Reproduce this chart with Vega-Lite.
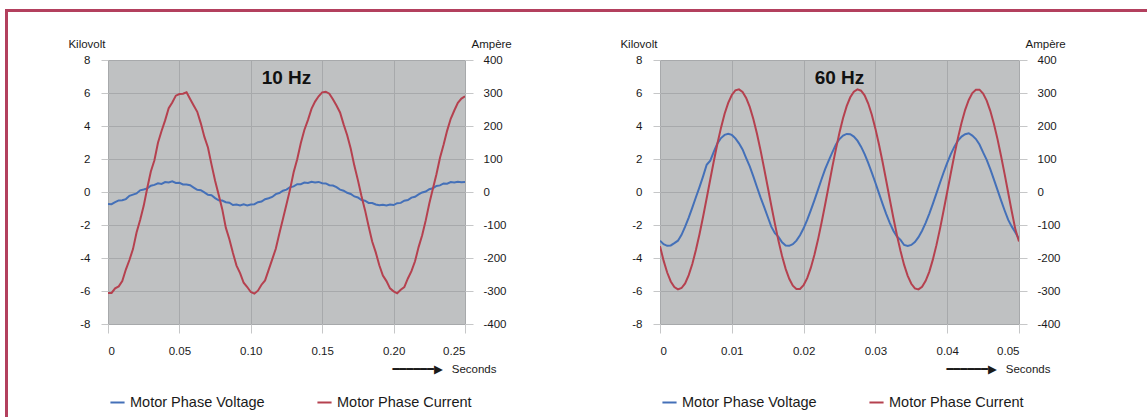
{
  "$schema": "https://vega.github.io/schema/vega-lite/v6.json",
  "padding": {"left": 5, "top": 9, "right": 0, "bottom": 0},
  "background": "white",
  "config": {
    "view": {"stroke": null},
    "font": "Liberation Sans",
    "axis": {
      "labelFont": "Liberation Sans", "labelFontSize": 11.5, "labelColor": "#1a1a1a",
      "titleFont": "Liberation Sans, DejaVu Sans", "titleFontSize": 11.5, "titleFontWeight": "normal", "titleColor": "#1a1a1a",
      "domain": false, "tickColor": "#c6c7c8", "gridColor": "#a7a9ab", "gridWidth": 1
    },
    "legend": {
      "orient": "none", "direction": "horizontal", "symbolType": "stroke", "symbolStrokeWidth": 2,
      "symbolSize": 200, "labelFont": "Liberation Sans", "labelFontSize": 14.5, "labelColor": "#1a1a1a",
      "columnPadding": 48, "labelOffset": 4
    }
  },
  "datasets": {
    "d10": [
      {"t":0,"kv":-0.72,"amp":-306},{"t":0.0025,"kv":-0.74,"amp":-306},{"t":0.005,"kv":-0.62,"amp":-292},{"t":0.0075,"kv":-0.51,"amp":-286},{"t":0.01,"kv":-0.5,"amp":-270},
      {"t":0.0125,"kv":-0.43,"amp":-235},{"t":0.015,"kv":-0.23,"amp":-206},{"t":0.0175,"kv":-0.16,"amp":-173},{"t":0.02,"kv":-0.09,"amp":-123},{"t":0.0225,"kv":0.1,"amp":-85},
      {"t":0.025,"kv":0.15,"amp":-42},{"t":0.0275,"kv":0.22,"amp":12},{"t":0.03,"kv":0.38,"amp":62},{"t":0.0325,"kv":0.43,"amp":96},{"t":0.035,"kv":0.53,"amp":149},
      {"t":0.0375,"kv":0.49,"amp":185},{"t":0.04,"kv":0.6,"amp":217},{"t":0.0425,"kv":0.58,"amp":254},{"t":0.045,"kv":0.65,"amp":271},{"t":0.0475,"kv":0.55,"amp":292},
      {"t":0.05,"kv":0.56,"amp":297},{"t":0.0525,"kv":0.46,"amp":298},{"t":0.055,"kv":0.46,"amp":302},{"t":0.0575,"kv":0.41,"amp":282},{"t":0.06,"kv":0.27,"amp":262},
      {"t":0.0625,"kv":0.13,"amp":243},{"t":0.065,"kv":0.11,"amp":208},{"t":0.0675,"kv":-0.02,"amp":167},{"t":0.07,"kv":-0.17,"amp":135},{"t":0.0725,"kv":-0.2,"amp":83},
      {"t":0.075,"kv":-0.37,"amp":34},{"t":0.0775,"kv":-0.5,"amp":-8},{"t":0.08,"kv":-0.52,"amp":-52},{"t":0.0825,"kv":-0.62,"amp":-108},{"t":0.085,"kv":-0.65,"amp":-143},
      {"t":0.0875,"kv":-0.79,"amp":-185},{"t":0.09,"kv":-0.76,"amp":-223},{"t":0.0925,"kv":-0.82,"amp":-246},{"t":0.095,"kv":-0.75,"amp":-275},{"t":0.0975,"kv":-0.81,"amp":-288},
      {"t":0.1,"kv":-0.76,"amp":-303},{"t":0.1025,"kv":-0.74,"amp":-308},{"t":0.105,"kv":-0.62,"amp":-299},{"t":0.1075,"kv":-0.58,"amp":-281},{"t":0.11,"kv":-0.44,"amp":-268},
      {"t":0.1125,"kv":-0.38,"amp":-236},{"t":0.115,"kv":-0.3,"amp":-204},{"t":0.1175,"kv":-0.13,"amp":-172},{"t":0.12,"kv":-0.06,"amp":-126},{"t":0.1225,"kv":0.08,"amp":-82},
      {"t":0.125,"kv":0.14,"amp":-37},{"t":0.1275,"kv":0.29,"amp":8},{"t":0.13,"kv":0.34,"amp":60},{"t":0.1325,"kv":0.47,"amp":99},{"t":0.135,"kv":0.47,"amp":148},
      {"t":0.1375,"kv":0.57,"amp":188},{"t":0.14,"kv":0.55,"amp":218},{"t":0.1425,"kv":0.62,"amp":252},{"t":0.145,"kv":0.57,"amp":274},{"t":0.1475,"kv":0.61,"amp":290},
      {"t":0.15,"kv":0.53,"amp":302},{"t":0.1525,"kv":0.52,"amp":304},{"t":0.155,"kv":0.41,"amp":298},{"t":0.1575,"kv":0.39,"amp":281},{"t":0.16,"kv":0.29,"amp":262},
      {"t":0.1625,"kv":0.14,"amp":241},{"t":0.165,"kv":0.08,"amp":205},{"t":0.1675,"kv":-0.05,"amp":172},{"t":0.17,"kv":-0.12,"amp":131},{"t":0.1725,"kv":-0.27,"amp":80},
      {"t":0.175,"kv":-0.33,"amp":36},{"t":0.1775,"kv":-0.49,"amp":-12},{"t":0.18,"kv":-0.53,"amp":-55},{"t":0.1825,"kv":-0.66,"amp":-104},{"t":0.185,"kv":-0.67,"amp":-150},
      {"t":0.1875,"kv":-0.76,"amp":-183},{"t":0.19,"kv":-0.8,"amp":-222},{"t":0.1925,"kv":-0.77,"amp":-253},{"t":0.195,"kv":-0.82,"amp":-270},{"t":0.1975,"kv":-0.76,"amp":-292},
      {"t":0.2,"kv":-0.79,"amp":-301},{"t":0.2025,"kv":-0.68,"amp":-307},{"t":0.205,"kv":-0.66,"amp":-296},{"t":0.2075,"kv":-0.53,"amp":-288},{"t":0.21,"kv":-0.49,"amp":-262},
      {"t":0.2125,"kv":-0.34,"amp":-240},{"t":0.215,"kv":-0.29,"amp":-210},{"t":0.2175,"kv":-0.15,"amp":-167},{"t":0.22,"kv":-0.03,"amp":-131},{"t":0.2225,"kv":0.03,"amp":-86},
      {"t":0.225,"kv":0.17,"amp":-35},{"t":0.2275,"kv":0.23,"amp":10},{"t":0.23,"kv":0.37,"amp":54},{"t":0.2325,"kv":0.4,"amp":104},{"t":0.235,"kv":0.52,"amp":143},
      {"t":0.2375,"kv":0.5,"amp":186},{"t":0.24,"kv":0.6,"amp":222},{"t":0.2425,"kv":0.57,"amp":247},{"t":0.245,"kv":0.62,"amp":270},{"t":0.2475,"kv":0.59,"amp":283},
      {"t":0.25,"kv":0.6,"amp":290}
    ],
    "d60": [
      {"t":0,"kv":-2.95,"amp":-164},{"t":0.0005,"kv":-3.16,"amp":-208},{"t":0.001,"kv":-3.26,"amp":-244},{"t":0.0015,"kv":-3.24,"amp":-271},{"t":0.002,"kv":-3.1,"amp":-288},
      {"t":0.0025,"kv":-2.95,"amp":-295},{"t":0.003,"kv":-2.6,"amp":-291},{"t":0.0035,"kv":-2.1,"amp":-277},{"t":0.004,"kv":-1.55,"amp":-252},{"t":0.0045,"kv":-0.95,"amp":-218},
      {"t":0.005,"kv":-0.32,"amp":-176},{"t":0.0055,"kv":0.3,"amp":-128},{"t":0.006,"kv":0.95,"amp":-75},{"t":0.0065,"kv":1.65,"amp":-19},{"t":0.007,"kv":1.9,"amp":38},
      {"t":0.0075,"kv":2.45,"amp":94},{"t":0.008,"kv":2.95,"amp":147},{"t":0.0085,"kv":3.27,"amp":195},{"t":0.009,"kv":3.46,"amp":237},{"t":0.0095,"kv":3.53,"amp":270},
      {"t":0.01,"kv":3.46,"amp":294},{"t":0.0105,"kv":3.25,"amp":308},{"t":0.011,"kv":2.95,"amp":311},{"t":0.0115,"kv":2.58,"amp":303},{"t":0.012,"kv":2.05,"amp":285},
      {"t":0.0125,"kv":1.55,"amp":258},{"t":0.013,"kv":0.95,"amp":221},{"t":0.0135,"kv":0.3,"amp":177},{"t":0.014,"kv":-0.33,"amp":127},{"t":0.0145,"kv":-0.9,"amp":72},
      {"t":0.015,"kv":-1.5,"amp":16},{"t":0.0155,"kv":-2.1,"amp":-41},{"t":0.016,"kv":-2.5,"amp":-96},{"t":0.0165,"kv":-2.72,"amp":-148},{"t":0.017,"kv":-3.05,"amp":-194},
      {"t":0.0175,"kv":-3.24,"amp":-233},{"t":0.018,"kv":-3.26,"amp":-263},{"t":0.0185,"kv":-3.16,"amp":-284},{"t":0.019,"kv":-2.95,"amp":-294},{"t":0.0195,"kv":-2.62,"amp":-294},
      {"t":0.02,"kv":-2.2,"amp":-282},{"t":0.0205,"kv":-1.69,"amp":-261},{"t":0.021,"kv":-1.12,"amp":-230},{"t":0.0215,"kv":-0.51,"amp":-191},{"t":0.022,"kv":0.13,"amp":-145},
      {"t":0.0225,"kv":0.77,"amp":-93},{"t":0.023,"kv":1.38,"amp":-38},{"t":0.0235,"kv":1.9,"amp":19},{"t":0.024,"kv":2.4,"amp":76},{"t":0.0245,"kv":2.88,"amp":130},
      {"t":0.025,"kv":3.21,"amp":180},{"t":0.0255,"kv":3.42,"amp":224},{"t":0.026,"kv":3.52,"amp":260},{"t":0.0265,"kv":3.5,"amp":287},{"t":0.027,"kv":3.36,"amp":304},
      {"t":0.0275,"kv":3.11,"amp":311},{"t":0.028,"kv":2.75,"amp":307},{"t":0.0285,"kv":2.3,"amp":293},{"t":0.029,"kv":1.77,"amp":268},{"t":0.0295,"kv":1.18,"amp":234},
      {"t":0.03,"kv":0.56,"amp":192},{"t":0.0305,"kv":-0.08,"amp":144},{"t":0.031,"kv":-0.72,"amp":91},{"t":0.0315,"kv":-1.32,"amp":35},{"t":0.032,"kv":-1.87,"amp":-22},
      {"t":0.0325,"kv":-2.35,"amp":-78},{"t":0.033,"kv":-2.7,"amp":-131},{"t":0.0335,"kv":-2.9,"amp":-179},{"t":0.034,"kv":-3.21,"amp":-221},{"t":0.0345,"kv":-3.27,"amp":-254},
      {"t":0.035,"kv":-3.21,"amp":-278},{"t":0.0355,"kv":-3.03,"amp":-292},{"t":0.036,"kv":-2.74,"amp":-295},{"t":0.0365,"kv":-2.35,"amp":-287},{"t":0.037,"kv":-1.87,"amp":-269},
      {"t":0.0375,"kv":-1.32,"amp":-242},{"t":0.038,"kv":-0.72,"amp":-205},{"t":0.0385,"kv":-0.08,"amp":-161},{"t":0.039,"kv":0.56,"amp":-111},{"t":0.0395,"kv":1.18,"amp":-56},
      {"t":0.04,"kv":1.77,"amp":0},{"t":0.0405,"kv":2.3,"amp":57},{"t":0.041,"kv":2.75,"amp":112},{"t":0.0415,"kv":3.11,"amp":164},{"t":0.042,"kv":3.36,"amp":210},
      {"t":0.0425,"kv":3.5,"amp":249},{"t":0.043,"kv":3.56,"amp":279},{"t":0.0435,"kv":3.42,"amp":300},{"t":0.044,"kv":3.21,"amp":310},{"t":0.0445,"kv":2.88,"amp":310},
      {"t":0.045,"kv":2.4,"amp":298},{"t":0.0455,"kv":1.95,"amp":277},{"t":0.046,"kv":1.38,"amp":246},{"t":0.0465,"kv":0.77,"amp":207},{"t":0.047,"kv":0.13,"amp":161},
      {"t":0.0475,"kv":-0.51,"amp":109},{"t":0.048,"kv":-1.12,"amp":54},{"t":0.0485,"kv":-1.69,"amp":-3},{"t":0.049,"kv":-2.1,"amp":-60},{"t":0.0495,"kv":-2.45,"amp":-114},
      {"t":0.05,"kv":-2.85,"amp":-150}
    ]
  },
  "resolve": {"scale": {"color": "independent"}, "legend": {"color": "independent"}},
  "spacing": 0,
  "hconcat": [
    {
      "width": 3, "height": 408,
      "view": {"stroke": null, "fill": "#b3405e"},
      "data": {"values": []},
      "mark": "point",
      "encoding": {}
    },
    {
      "spacing": 26,
      "resolve": {"scale": {"color": "independent"}, "legend": {"color": "independent"}},
      "vconcat": [
        {
          "width": 1139, "height": 3,
          "view": {"stroke": null, "fill": "#b3405e"},
          "data": {"values": []},
          "mark": "point",
          "encoding": {}
        },
        {
          "spacing": 58,
          "resolve": {"scale": {"color": "independent"}, "legend": {"color": "independent"}},
          "hconcat": [
            {
              "width": 1, "height": 1,
              "view": {"stroke": null, "fill": null},
              "data": {"values": []},
              "mark": "point",
              "encoding": {}
            },
            {
              "spacing": 107,
              "resolve": {"scale": {"color": "independent"}, "legend": {"color": "independent"}},
              "hconcat": [
                {
                  "width": 357, "height": 264,
                  "view": {"fill": "#bfc1c2", "stroke": null},
                  "data": {"name": "d10"},
                  "title": {"text": "10 Hz", "offset": -50, "baseline": "top", "frame": "group", "anchor": "middle", "fontSize": 19, "fontWeight": "bold", "font": "Liberation Sans", "color": "#111111"},
                  "encoding": {
                    "x": {"field": "t", "type": "quantitative", "scale": {"domain": [0, 0.25], "nice": false, "zero": false},
                      "axis": {"values": [0, 0.05, 0.1, 0.15, 0.2, 0.25], "labelExpr": "datum.value == 0 ? '0' : format(datum.value, '.2f')",
                        "title": "━━━━━━▶\u2002\u00a0Seconds", "titleX": 388, "titleY": 45, "titleAlign": "right", "titleBaseline": "middle",
                        "tickSize": 9, "labelPadding": 12, "grid": true}}
                  },
                  "layer": [
                    {
                      "mark": {"type": "line", "strokeWidth": 2, "clip": true},
                      "encoding": {
                        "y": {"field": "kv", "type": "quantitative", "scale": {"domain": [-8, 8], "nice": false},
                          "axis": {"orient": "left", "values": [-8, -6, -4, -2, 0, 2, 4, 6, 8], "labelExpr": "toString(datum.value)",
                            "title": "Kilovolt", "titleAngle": 0, "titleX": -3, "titleY": -16, "titleAlign": "right", "titleBaseline": "middle",
                            "tickSize": 7, "labelPadding": 11, "grid": true}},
                        "color": {"datum": "Motor Phase Voltage", "type": "nominal",
                          "scale": {"domain": ["Motor Phase Voltage", "Motor Phase Current"], "range": ["#4470b8", "#b5414f"]},
                          "legend": {"title": null, "legendX": 1, "legendY": 334}}
                      }
                    },
                    {
                      "mark": {"type": "line", "strokeWidth": 2, "clip": true},
                      "encoding": {
                        "y": {"field": "amp", "type": "quantitative", "scale": {"domain": [-400, 400], "nice": false},
                          "axis": {"orient": "right", "values": [-400, -300, -200, -100, 0, 100, 200, 300, 400], "labelExpr": "toString(datum.value)",
                            "title": "Ampère", "titleAngle": 0, "titleX": 6, "titleY": -16, "titleAlign": "left", "titleBaseline": "middle",
                            "tickSize": 8, "labelPadding": 10, "grid": false}},
                        "color": {"datum": "Motor Phase Current", "type": "nominal",
                          "scale": {"domain": ["Motor Phase Voltage", "Motor Phase Current"], "range": ["#4470b8", "#b5414f"]},
                          "legend": {"title": null, "legendX": 1, "legendY": 334}}
                      }
                    }
                  ],
                  "resolve": {"scale": {"y": "independent"}}
                },
                {
                  "width": 359, "height": 264,
                  "view": {"fill": "#bfc1c2", "stroke": null},
                  "data": {"name": "d60"},
                  "title": {"text": "60 Hz", "offset": -50, "baseline": "top", "frame": "group", "anchor": "middle", "fontSize": 19, "fontWeight": "bold", "font": "Liberation Sans", "color": "#111111"},
                  "encoding": {
                    "x": {"field": "t", "type": "quantitative", "scale": {"domain": [0, 0.05], "nice": false, "zero": false},
                      "axis": {"values": [0, 0.01, 0.02, 0.03, 0.04, 0.05], "labelExpr": "datum.value == 0 ? '0' : format(datum.value, '.2f')",
                        "title": "━━━━━━▶\u2002\u00a0Seconds", "titleX": 390, "titleY": 45, "titleAlign": "right", "titleBaseline": "middle",
                        "tickSize": 9, "labelPadding": 12, "grid": true}}
                  },
                  "layer": [
                    {
                      "mark": {"type": "line", "strokeWidth": 2, "clip": true},
                      "encoding": {
                        "y": {"field": "kv", "type": "quantitative", "scale": {"domain": [-8, 8], "nice": false},
                          "axis": {"orient": "left", "values": [-8, -6, -4, -2, 0, 2, 4, 6, 8], "labelExpr": "toString(datum.value)",
                            "title": "Kilovolt", "titleAngle": 0, "titleX": -3, "titleY": -16, "titleAlign": "right", "titleBaseline": "middle",
                            "tickSize": 7, "labelPadding": 11, "grid": true}},
                        "color": {"datum": "Motor Phase Voltage", "type": "nominal",
                          "scale": {"domain": ["Motor Phase Voltage", "Motor Phase Current"], "range": ["#4470b8", "#b5414f"]},
                          "legend": {"title": null, "legendX": 1, "legendY": 334}}
                      }
                    },
                    {
                      "mark": {"type": "line", "strokeWidth": 2, "clip": true},
                      "encoding": {
                        "y": {"field": "amp", "type": "quantitative", "scale": {"domain": [-400, 400], "nice": false},
                          "axis": {"orient": "right", "values": [-400, -300, -200, -100, 0, 100, 200, 300, 400], "labelExpr": "toString(datum.value)",
                            "title": "Ampère", "titleAngle": 0, "titleX": 6, "titleY": -16, "titleAlign": "left", "titleBaseline": "middle",
                            "tickSize": 8, "labelPadding": 10, "grid": false}},
                        "color": {"datum": "Motor Phase Current", "type": "nominal",
                          "scale": {"domain": ["Motor Phase Voltage", "Motor Phase Current"], "range": ["#4470b8", "#b5414f"]},
                          "legend": {"title": null, "legendX": 1, "legendY": 334}}
                      }
                    }
                  ],
                  "resolve": {"scale": {"y": "independent"}}
                }
              ]
            }
          ]
        }
      ]
    }
  ]
}
